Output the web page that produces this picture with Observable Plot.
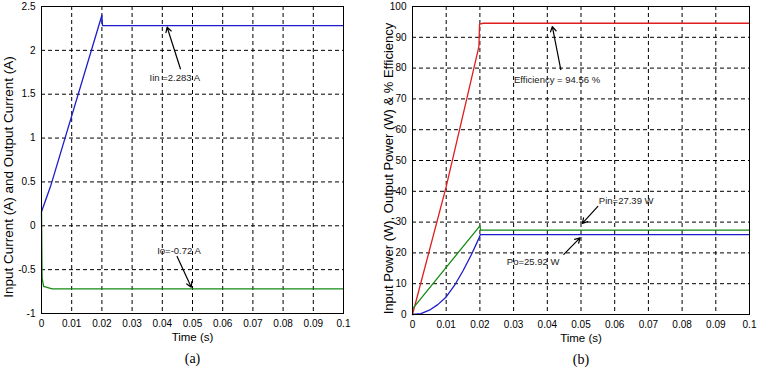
<!DOCTYPE html>
<html>
<head>
<meta charset="utf-8">
<script src="https://cdn.jsdelivr.net/npm/d3@7"></script>
<script src="https://cdn.jsdelivr.net/npm/@observablehq/plot@0.6"></script>
<style>
  html, body { margin: 0; padding: 0; background: #fff; }
  #wrap { position: relative; width: 762px; height: 370px; display: flex; }
  #wrap svg { display: block; }
</style>
</head>
<body>
<div id="wrap"></div>
<script>
// ---------- shared axis data ----------
const xTicks = [0, 0.01, 0.02, 0.03, 0.04, 0.05, 0.06, 0.07, 0.08, 0.09, 0.1];
const xTickLabels = ["0", "0.01", "0.02", "0.03", "0.04", "0.05", "0.06", "0.07", "0.08", "0.09", "0.1"];
const xLabel = "Time (s)";

// ---------- panel (a) ----------
const yTicksA = [-1, -0.5, 0, 0.5, 1, 1.5, 2, 2.5];
const yTickLabelsA = ["-1", "-0.5", "0", "0.5", "1", "1.5", "2", "2.5"];
const yLabelA = "Input Current (A) and Output Current (A)";
const captionA = "(a)";

const tIin = [0, 0.003, 0.02, 0.0202, 0.1];
const iin  = [0.16, 0.45, 2.40, 2.283, 2.283];
const tIo  = [0, 0.0002, 0.0007, 0.0035, 0.1];
const io   = [0.16, -0.60, -0.69, -0.72, -0.72];

const notesA = ["Iin =2.283 A", "Io=-0.72 A"];
const notesAx = [0.0358, 0.0383];
const notesAy = [1.687, -0.282];
const arrowsA_x1 = [0.0460, 0.0449];
const arrowsA_y1 = [1.790, -0.35];
const arrowsA_x2 = [0.0416, 0.0496];
const arrowsA_y2 = [2.264, -0.70];

// ---------- panel (b) ----------
const yTicksB = [0, 10, 20, 30, 40, 50, 60, 70, 80, 90, 100];
const yLabelB = "Input Power (W), Output Power (W) & % Efficiency";
const captionB = "(b)";

const tEff = [0, 0.01, 0.0161, 0.0197, 0.0199, 0.021, 0.1];
const eff  = [0, 41.5, 70, 87, 94.3, 94.56, 94.56];
const tPin = [0, 0.02, 0.0202, 0.1];
const pin  = [1.8, 28.8, 27.39, 27.39];
const tPo  = [0, 0.0025, 0.005, 0.0075, 0.01, 0.0125, 0.015, 0.0175, 0.0199, 0.0201, 0.1];
const po   = [0, 0.3, 1.4, 3.2, 5.7, 9.5, 14.2, 19.5, 25.2, 25.92, 25.92];

const notesB = ["Efficiency = 94.56 %", "Pin=27.39 W", "Po=25.92 W"];
const notesBx = [0.0301, 0.0553, 0.0280];
const notesBy = [76.3, 37.0, 17.0];
const arrowsB_x1 = [0.0440, 0.0550, 0.0449];
const arrowsB_y1 = [79.5, 35.1, 19.5];
const arrowsB_x2 = [0.0415, 0.0504, 0.0497];
const arrowsB_y2 = [93.5, 29.6, 24.9];

// ---------- helpers ----------
const SANS = "'Liberation Sans', Arial, Helvetica, sans-serif";
const SERIF = "'Liberation Serif', 'Times New Roman', serif";
const BLUE = "#1c1ccc", GREEN = "#158a15", RED = "#e01c1c";
const zip = (xs, ys) => xs.map((x, i) => ({x, y: ys[i]}));
const notes = (txt, xs, ys) => txt.map((t, i) => ({t, x: xs[i], y: ys[i]}));
const arrows = (x1, y1, x2, y2) => x1.map((_, i) => ({x1: x1[i], y1: y1[i], x2: x2[i], y2: y2[i]}));
const fmtX = d => xTickLabels[xTicks.indexOf(d)];

function panel({ml, mr, mb, yDomain, yTicks, yFmt, yLabel, yLabelDx, yLabelDy, yLabelSize, caption, series, noteData, arrowData}) {
  return Plot.plot({
    width: 381, height: 370,
    marginLeft: ml, marginRight: mr, marginTop: 6, marginBottom: mb,
    style: {fontFamily: SANS, fontSize: "10px", color: "black", background: "white"},
    x: {domain: [0, 0.1]},
    y: {domain: yDomain},
    marks: [
      Plot.gridX(xTicks, {stroke: "black", strokeOpacity: 1, strokeDasharray: "4,3"}),
      Plot.gridY(yTicks, {stroke: "black", strokeOpacity: 1, strokeDasharray: "4,3"}),
      ...series.map(s => Plot.line(s.data, {x: "x", y: "y", stroke: s.color, strokeWidth: 1.3})),
      Plot.frame({stroke: "black", strokeWidth: 1}),
      Plot.axisX(xTicks, {tickSize: 0, tickPadding: 6, tickFormat: fmtX, label: null, fontSize: 10}),
      Plot.axisY(yTicks, {tickSize: 0, tickPadding: 6, tickFormat: yFmt, label: null, fontSize: 10}),
      Plot.text([xLabel], {frameAnchor: "bottom", textAnchor: "middle", dy: 27, fontSize: 11.5, fontFamily: SANS}),
      Plot.text([caption], {frameAnchor: "bottom", textAnchor: "middle", dy: 49, fontSize: 14, fontFamily: SERIF}),
      Plot.text([yLabel], {frameAnchor: "left", textAnchor: "middle", rotate: -90, dx: yLabelDx, dy: yLabelDy, fontSize: yLabelSize, fontFamily: SANS}),
      Plot.arrow(arrowData, {x1: "x1", y1: "y1", x2: "x2", y2: "y2", stroke: "black", strokeWidth: 1.2, headLength: 7}),
      Plot.text(noteData, {x: "x", y: "y", text: "t", textAnchor: "start", fontSize: 9.5, fontFamily: SANS, fill: "#222"})
    ]
  });
}

const wrap = document.getElementById("wrap");

const fmtA = d => yTickLabelsA[yTicksA.indexOf(d)];
wrap.appendChild(panel({
  ml: 41, mr: 38, mb: 57,
  yDomain: [-1, 2.5], yTicks: yTicksA, yFmt: fmtA,
  yLabel: yLabelA, yLabelDx: -33, yLabelDy: 17, yLabelSize: 13.5, caption: captionA,
  series: [{data: zip(tIin, iin), color: BLUE}, {data: zip(tIo, io), color: GREEN}],
  noteData: notes(notesA, notesAx, notesAy),
  arrowData: arrows(arrowsA_x1, arrowsA_y1, arrowsA_x2, arrowsA_y2)
}));

wrap.appendChild(panel({
  ml: 31, mr: 13, mb: 56,
  yDomain: [0, 100], yTicks: yTicksB, yFmt: d => String(d),
  yLabel: yLabelB, yLabelDx: -24, yLabelDy: 8, yLabelSize: 13, caption: captionB,
  series: [{data: zip(tEff, eff), color: RED}, {data: zip(tPin, pin), color: GREEN}, {data: zip(tPo, po), color: BLUE}],
  noteData: notes(notesB, notesBx, notesBy),
  arrowData: arrows(arrowsB_x1, arrowsB_y1, arrowsB_x2, arrowsB_y2)
}));
</script>
</body>
</html>
